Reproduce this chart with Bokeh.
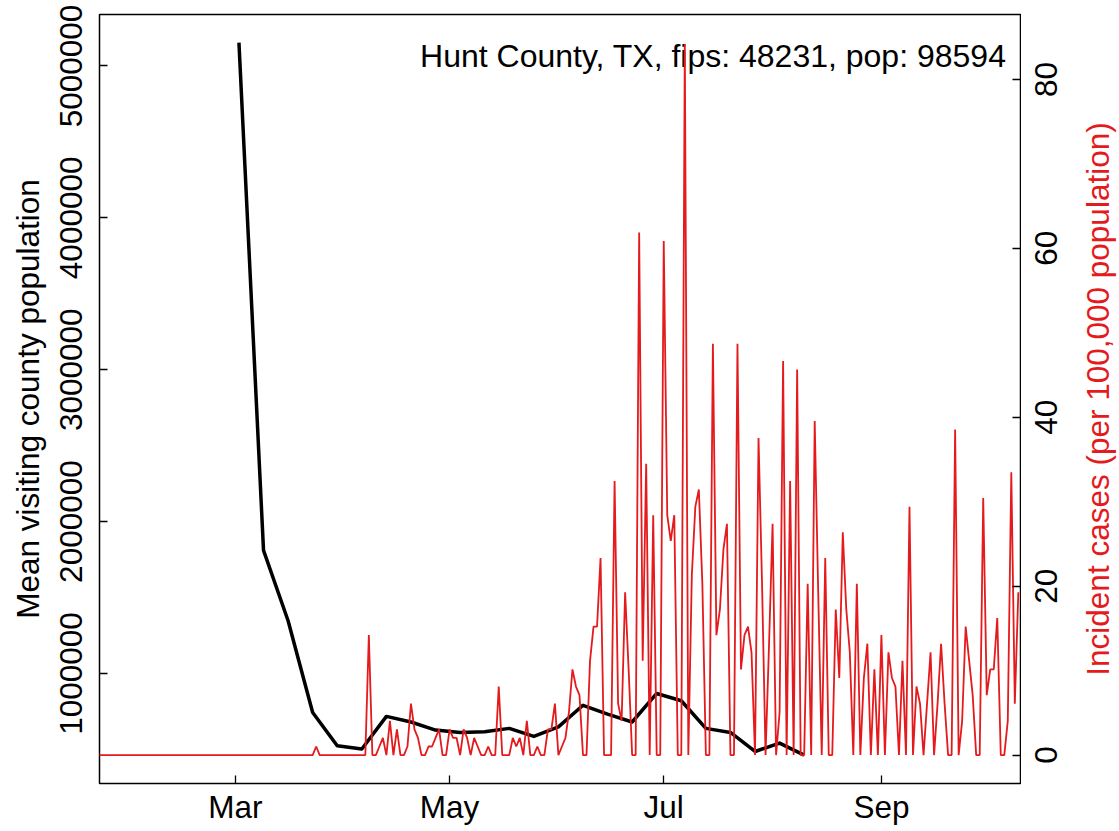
import math
import pandas as pd
from bokeh.plotting import figure
from bokeh.layouts import row
from bokeh.models import (Range1d, LinearAxis, FixedTicker, BasicTickFormatter,
                          DatetimeTickFormatter, Label, LabelSet, ColumnDataSource)
from bokeh.core.properties import value
from bokeh.embed import file_html
from bokeh.resources import INLINE

# ---------------- data ----------------
county_text = "Hunt County, TX, fips: 48231, pop: 98594"
population = 98594
left_title = "Mean visiting county population"
right_title = "Incident cases (per 100,000 population)"

# weekly mean visiting county population (black line)
mob_dates = ["2020-03-02", "2020-03-09", "2020-03-16", "2020-03-23", "2020-03-30",
             "2020-04-06", "2020-04-13", "2020-04-20", "2020-04-27", "2020-05-04",
             "2020-05-11", "2020-05-18", "2020-05-25", "2020-06-01", "2020-06-08",
             "2020-06-15", "2020-06-22", "2020-06-29", "2020-07-06", "2020-07-13",
             "2020-07-20", "2020-07-27", "2020-08-03", "2020-08-10"]
mob_values = [5154000, 1810000, 1347000, 743000, 524000,
              502000, 717000, 680000, 627000, 611000,
              616000, 638000, 585000, 648000, 790000,
              732000, 680000, 868000, 820000, 638000,
              611000, 486000, 541000, 462000]

# daily new cases (counts), consecutive days from case_start (red line)
case_start = "2020-01-22"
daily_cases = (
    [0] * 62 +                                   # Jan 22 - Mar 23
    [1] + [0] * 14 +                             # Mar 24 - Apr 7
    [14, 0, 0, 1, 2, 0, 4, 0, 3, 0, 0, 1, 6, 3, 2,       # Apr 8 - Apr 22
     0, 0, 1, 1, 2, 3, 0, 0, 3, 2, 2, 0, 3, 2, 0,       # Apr 23 - May 7
     2, 1, 0, 0, 1, 0, 0, 8, 0, 0, 0, 2, 1, 2, 0,       # May 8 - May 22
     4, 0, 0, 1, 0, 0, 3, 3, 6, 0, 1, 2, 5, 10, 8,      # May 23 - Jun 6
     7, 0, 0, 11, 15, 15, 23, 0, 0, 0, 32, 6, 4, 19, 10,  # Jun 7 - Jun 21
     0, 0, 61, 11, 34, 0, 28, 0, 0, 60, 28, 25, 28, 0, 0,  # Jun 22 - Jul 6
     83, 0, 21, 29, 31, 20, 0, 0, 48, 14, 17, 24, 27, 0, 0,  # Jul 7 - Jul 21
     48, 10, 14, 15, 12, 0, 37, 20, 0, 13, 27, 0, 5, 46, 0,  # Jul 22 - Aug 5
     32, 0, 45, 0, 0, 20, 0, 39, 19, 0, 23, 0, 0, 17, 9,     # Aug 6 - Aug 20
     26, 17, 12, 0, 20, 0, 9, 13, 0, 10, 0, 14, 0, 12, 9,    # Aug 21 - Sep 4
     8, 0, 11, 0, 29, 0, 8, 6, 0, 6, 12, 0, 6, 13, 6,        # Sep 5 - Sep 19
     0, 0, 38, 0, 4, 15, 11, 7, 0, 0, 30, 7, 10, 10, 16,     # Sep 20 - Oct 4
     0, 0, 4, 33, 6, 19]                                     # Oct 5 - Oct 10
)

month_ticks = ["2020-03-01", "2020-05-01", "2020-07-01", "2020-09-01"]
left_ticks = [1000000, 2000000, 3000000, 4000000, 5000000]
right_ticks = [0, 20, 40, 60, 80]

# ---------------- derived ----------------
case_dates = pd.date_range(case_start, periods=len(daily_cases), freq="D")
incidence = [c * 100000.0 / population for c in daily_cases]
mob_dt = pd.to_datetime(mob_dates)
tick_ms = [pd.Timestamp(t).value / 1e6 for t in month_ticks]

x_start = pd.Timestamp("2020-03-01") - pd.Timedelta(days=38.72)
x_end = pd.Timestamp("2020-07-01") + pd.Timedelta(days=101.62)
y_left = (275100, 5338800)
y_right = (-3.365, 87.68)

FONT = "Liberation Sans"
FS = "31.5px"
RED = "#E41A1C"
TOP, BOTTOM = 14, 48
MAIN_W, SIDE_W, H = 1021, 98, 831

# ---------------- main plot ----------------
p = figure(width=MAIN_W, height=H, x_axis_type="datetime",
           x_range=Range1d(x_start, x_end),
           y_range=Range1d(*y_left),
           output_backend="svg", toolbar_location=None,
           min_border_left=99, min_border_right=1,
           min_border_top=TOP, min_border_bottom=BOTTOM)
p.extra_y_ranges = {"cases": Range1d(*y_right)}

p.grid.visible = False
p.outline_line_color = "black"
p.outline_line_width = 1.5
p.background_fill_color = "white"
p.border_fill_color = "white"

label = Label(x=x_end, y=y_left[1], x_offset=-14, y_offset=-41,
              text=county_text, text_align="right", text_baseline="alphabetic",
              text_font=FONT, text_font_size="32px", text_color="black",
              level="underlay")
p.add_layout(label)

p.line(mob_dt, mob_values, line_color="black", line_width=3.5, line_join="round")
p.line(case_dates, incidence, y_range_name="cases", line_color=RED, line_width=1.8)

right_axis = LinearAxis(y_range_name="cases")
p.add_layout(right_axis, "right")


def style(ax):
    ax.axis_line_color = None
    ax.major_tick_in = 8
    ax.major_tick_out = 0
    ax.minor_tick_line_color = None
    ax.major_tick_line_color = "black"
    ax.major_tick_line_width = 1.3
    ax.major_label_text_font = FONT
    ax.major_label_text_font_size = FS
    ax.major_label_text_color = "black"
    ax.axis_label_text_font = FONT
    ax.axis_label_text_font_size = FS
    ax.axis_label_text_font_style = "normal"


xa = p.xaxis[0]
style(xa)
xa.ticker = FixedTicker(ticks=tick_ms)
xa.formatter = DatetimeTickFormatter(days="%b", months="%b", years="%b")
xa.major_label_standoff = 5

ya = p.yaxis[0]
style(ya)
ya.ticker = FixedTicker(ticks=left_ticks)
ya.formatter = BasicTickFormatter(use_scientific=False)
ya.major_label_orientation = "vertical"
ya.major_label_standoff = 17
ya.axis_label = left_title
ya.axis_label_standoff = 12
ya.axis_label_text_color = "black"

# right axis: only the inward ticks here; its upward-reading labels sit in the side panel
style(right_axis)
right_axis.ticker = FixedTicker(ticks=right_ticks)
right_axis.major_label_text_font_size = "0px"
right_axis.major_label_text_color = None
right_axis.major_label_standoff = 0

# ---------------- side panel (right axis labels, same vertical scale) ----------------
q = figure(width=SIDE_W, height=H, x_range=Range1d(0, SIDE_W),
           y_range=Range1d(*y_right), output_backend="svg", toolbar_location=None,
           x_axis_location=None, y_axis_location=None,
           min_border_left=0, min_border_right=0,
           min_border_top=TOP, min_border_bottom=BOTTOM)
q.grid.visible = False
q.outline_line_color = None
q.background_fill_color = "white"
q.border_fill_color = "white"

rsrc = ColumnDataSource(dict(x=[25] * len(right_ticks), y=right_ticks,
                             text=[str(t) for t in right_ticks]))
q.add_layout(LabelSet(x="x", y="y", text="text", source=rsrc,
                      angle=math.pi / 2, text_align="center",
                      text_baseline="middle", text_font=value(FONT),
                      text_font_size=value(FS), text_color="black"))

q.add_layout(Label(x=76, y=(y_right[0] + y_right[1]) / 2,
                   angle=math.pi / 2, text=right_title,
                   text_align="center", text_baseline="middle",
                   text_font=FONT, text_font_size=FS, text_color=RED))

layout = row(p, q, spacing=0)
open("out.html", "w").write(file_html(layout, INLINE))
